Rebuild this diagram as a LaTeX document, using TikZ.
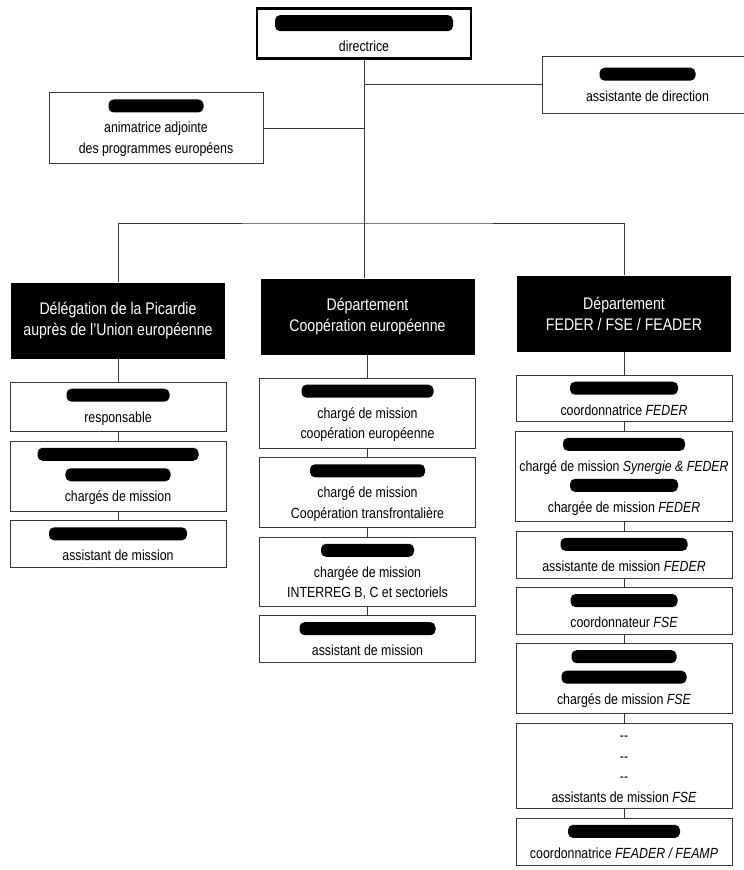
\documentclass[tikz,border=0pt]{standalone}
\usepackage{fontspec}
\setmainfont{Liberation Sans}[FakeStretch=0.84]
\usetikzlibrary{positioning}
\definecolor{inkgray}{RGB}{55,55,55}
\newcommand{\postfont}{\fontsize{14.7}{20.5}\selectfont}
\newcommand{\deptfont}{\fontsize{16.8}{21}\selectfont}
% black marker stroke hiding a name
\newcommand{\redact}[2][13]{\tikz[baseline=0pt]\fill[black, rounded corners=5pt] (0pt,0pt) rectangle (#2pt,#1pt);}

\begin{document}
\begin{tikzpicture}[x=1pt, y=-1pt, node distance=8.5pt,
  post/.style={draw=inkgray, line width=1pt, fill=white, align=center, font=\postfont,
               minimum width=216pt, inner xsep=4pt, inner ysep=6.5pt},
  boss/.style={post, draw=black, line width=2.6pt, minimum width=214pt},
  dept/.style={fill=black, text=white, align=center, font=\deptfont,
               minimum width=214pt, minimum height=76pt},
  link/.style={draw=inkgray, line width=1pt}]
\useasboundingbox (0,0) rectangle (744,870);

% --- head of the unit ---
\node[boss] (dir) at (364,33.5) {\redact[16]{178}\\directrice};
\node[post, minimum width=211pt, minimum height=57pt] (asst) at (647.5,84.5)
  {\redact{96}\\assistante de direction};
\node[post, minimum width=214pt, minimum height=70pt] (anim) at (156,128)
  {\redact{95}\\animatrice adjointe\\des programmes européens};

% --- the three departments ---
\node[dept] (deleg) at (118,320.5) {Délégation de la Picardie\\auprès de l'Union européenne};
\node[dept] (coop) at (367.5,316.5) {Département\\Coopération européenne};
\node[dept] (feder) at (624,313.5) {Département\\FEDER / FSE / FEADER};

% --- links from the head ---
\coordinate (busy) at (0,223);
\coordinate (bus) at (dir.south |- busy);
\draw[link] (dir.south) -- (bus);
\draw[link] (anim.east) -- (anim.east -| dir.south);
\draw[link] (asst.west) -- (asst.west -| dir.south);
\draw[link] (deleg.north) |- (bus) -| (feder.north);
\draw[link] (bus) -- (bus |- coop.north);

% --- Délégation ---
\node[post, below=23pt of deleg] (resp) {\redact{103}\\responsable};
\node[post, below=of resp] (cmL) {\redact{161}\\\redact{105}\\chargés de mission};
\node[post, below=of cmL] (amL) {\redact{138}\\assistant de mission};

% --- Coopération ---
\node[post, below=23pt of coop] (ce) {\redact{132}\\chargé de mission\\coopération européenne};
\node[post, below=of ce] (ct) {\redact{115}\\chargé de mission\\Coopération transfrontalière};
\node[post, below=of ct] (ir) {\redact{93}\\chargée de mission\\INTERREG B, C et sectoriels};
\node[post, below=of ir] (amM) {\redact{136}\\assistant de mission};

% --- FEDER / FSE / FEADER ---
\node[post, below=23pt of feder] (cfeder) {\redact{108}\\coordonnatrice \textit{FEDER}};
\node[post, below=of cfeder] (syn) {\redact{122}\\chargé de mission \textit{Synergie \& FEDER}\\
  \redact{108}\\chargée de mission \textit{FEDER}};
\node[post, below=of syn] (afeder) {\redact{127}\\assistante de mission \textit{FEDER}};
\node[post, below=of afeder] (cfse) {\redact{107}\\coordonnateur \textit{FSE}};
\node[post, below=of cfse] (cmfse) {\redact{105}\\\redact{125}\\chargés de mission \textit{FSE}};
\node[post, below=of cmfse] (afse) {\rule{0pt}{11pt}-{}-\\-{}-\\-{}-\\assistants de mission \textit{FSE}};
\node[post, below=of afse] (cfeader) {\redact{112}\\coordonnatrice \textit{FEADER / FEAMP}};

\foreach \a/\b in {deleg/resp, resp/cmL, cmL/amL,
                   coop/ce, ce/ct, ct/ir, ir/amM,
                   feder/cfeder, cfeder/syn, syn/afeder, afeder/cfse,
                   cfse/cmfse, cmfse/afse, afse/cfeader}
  \draw[link] (\a.south) -- (\b.north);
\end{tikzpicture}
\end{document}
